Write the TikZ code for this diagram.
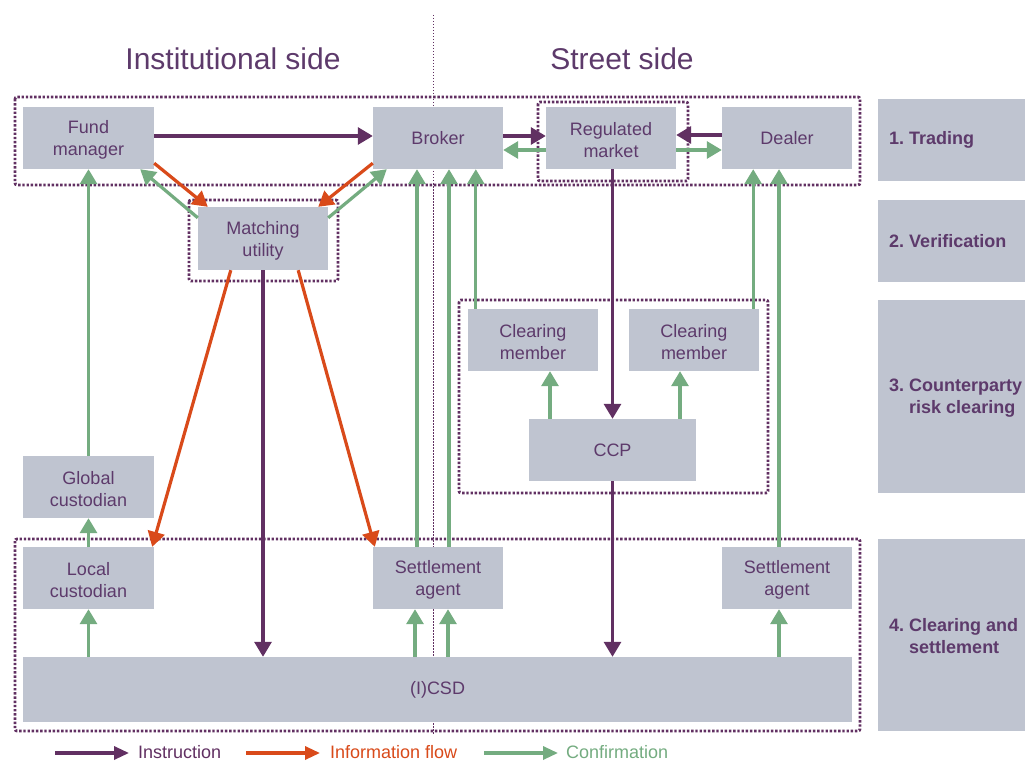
\documentclass[tikz,border=0pt]{standalone}
\usepackage{fontspec}
\setmainfont{Liberation Sans}
\frenchspacing
\usetikzlibrary{arrows.meta,calc}
\definecolor{boxgray}{HTML}{BFC4D0}
\definecolor{txtpurple}{HTML}{5D3A6B}
\definecolor{arrpurple}{HTML}{613062}
\definecolor{infoorange}{HTML}{D94A1A}
\definecolor{confgreen}{HTML}{74AC80}
\begin{document}
\begin{tikzpicture}[x=1pt,y=-1pt,
 box/.style={fill=boxgray, draw=none, text=txtpurple, align=center, font=\fontsize{18}{22}\selectfont, inner sep=0pt, minimum width=130pt, minimum height=62pt},
 lblbox/.style={fill=boxgray, draw=none, minimum width=147pt, inner sep=0pt},
 lbltext/.style={anchor=west, align=left, text=txtpurple, font=\fontsize{18}{22}\selectfont\bfseries, inner sep=0pt},
 title/.style={text=txtpurple, font=\fontsize{30}{36}\selectfont, inner sep=0pt},
 legtext/.style={anchor=west, inner sep=0pt, font=\fontsize{18}{22}\selectfont},
 frame/.style={draw=arrpurple, line width=2.8pt, dash pattern=on 2.4pt off 1.8pt, rounded corners=2pt},
 divider/.style={draw=arrpurple, line width=0.8pt, dash pattern=on 1.5pt off 1.5pt},
 arr/.style={line width=3.2pt, -{Triangle[length=15pt,width=17pt]}},
 legarr/.style={line width=3.2pt, -{Triangle[length=15pt,width=13pt]}},
 instr/.style={arr, draw=arrpurple, fill=arrpurple},
 info/.style={arr, draw=infoorange, fill=infoorange},
 conf/.style={arr, draw=confgreen, fill=confgreen},
]
\path[fill=white] (0,0) rectangle (1025,762);
\useasboundingbox (0,0) rectangle (1025,762);

% divider
\coordinate (dtop) at (433,15);
\coordinate (dbot) at (433,735);
\draw[divider] (dtop) -- (dbot);

% titles
\node[title] (inst) at (233,58.5) {Institutional side};
\node[title] (street) at (622,58.5) {Street side};

% frames
\draw[frame] (15,97) rectangle (860,185);
\draw[frame] (538,102) rectangle (688,181);
\draw[frame] (189,200) rectangle (338,281);
\draw[frame] (459,300) rectangle (768,493);
\draw[frame] (15,539) rectangle (860,731);

% boxes
\node[box, minimum width=131pt] (fm) at (88.5,138) {\rule{0pt}{17pt}Fund\\manager};
\node[box] (broker) at (438,138) {Broker};
\node[box] (market) at (611,138) {\rule{0pt}{17pt}Regulated\\market};
\node[box] (dealer) at (787,138) {Dealer};
\node[box, minimum height=63pt] (mu) at (263,238.5) {\rule{0pt}{17pt}Matching\\utility};
\node[box, minimum width=131pt] (gc) at (88.5,487) {\rule{0pt}{17pt}Global\\custodian};
\node[box, minimum width=131pt] (lc) at (88.5,578) {\rule{0pt}{17pt}Local\\custodian};
\node[box] (sa1) at (438,578) {\rule{0pt}{17pt}Settlement\\agent};
\node[box] (sa2) at (787,578) {\rule{0pt}{17pt}Settlement\\agent};
\node[box, minimum width=829pt, minimum height=65pt] (csd) at (437.5,689.5) {(I)CSD};
\node[box] (cm1) at (533,340) {\rule{0pt}{17pt}Clearing\\member};
\node[box] (cm2) at (694,340) {\rule{0pt}{17pt}Clearing\\member};
\node[box, minimum width=167pt] (ccp) at (612.5,450) {CCP};

% stage labels
\node[lblbox, minimum height=82pt] (l1) at (951.5,140) {};
\node[lblbox, minimum height=82pt] (l2) at (951.5,241) {};
\node[lblbox, minimum height=193pt] (l3) at (951.5,396.5) {};
\node[lblbox, minimum height=192pt] (l4) at (951.5,635) {};
\node[lbltext] (t1) at (889,140) {1. Trading};
\node[lbltext] (t2) at (889,241) {2. Verification};
\node[lbltext] (t3) at (889,398) {3. Counterparty\\\phantom{3.\ }risk clearing};
\node[lbltext] (t4) at (889,636) {4. Clearing and\\\phantom{4.\ }settlement};

% instruction arrows
\draw[instr] ([yshift=2pt]fm.east) -- ([yshift=2pt]broker.west);
\draw[instr] ([yshift=2pt]broker.east) -- ([yshift=2pt]market.west);
\draw[instr] ([yshift=3pt]dealer.west) -- ([yshift=3pt]market.east);
\draw[instr] (mu.south) -- (mu.south |- csd.north);
\draw[instr] (ccp.north |- market.south) -- (ccp.north);
\draw[instr] (ccp.south) -- (ccp.south |- csd.north);

% information flow arrows
\draw[info] ([yshift=6pt]fm.south east) -- ([xshift=10pt]mu.north west);
\draw[info] ([yshift=6pt]broker.south west) -- ([xshift=-10pt]mu.north east);
\draw[info] ([xshift=33pt]mu.south west) -- ([xshift=-2pt]lc.north east);
\draw[info] ([xshift=-30pt]mu.south east) -- ([xshift=2pt]sa1.north west);

% confirmation arrows
\draw[conf] ([yshift=-12pt]market.west) -- ([yshift=-12pt]broker.east);
\draw[conf] ([yshift=-12pt]market.east) -- ([yshift=-12pt]dealer.west);
\draw[conf] ([yshift=-11pt]mu.north west) -- ([xshift=-14pt]fm.south east);
\draw[conf] ([yshift=-11pt]mu.north east) -- ([xshift=14pt]broker.south west);
\draw[conf] (gc.north) -- (fm.south);
\draw[conf] (lc.north) -- (gc.south);
\draw[conf] (lc.south |- csd.north) -- (lc.south);
\draw[conf] ([xshift=-21pt]sa1.north) -- ([xshift=-21pt]broker.south);
\draw[conf] ([xshift=11pt]sa1.north) -- ([xshift=11pt]broker.south);
\coordinate (c1) at ([xshift=8pt]cm1.north west);
\draw[conf] (c1) -- (c1 |- broker.south);
\coordinate (c2) at ([xshift=-6pt]cm2.north east);
\draw[conf] (c2) -- (c2 |- dealer.south);
\draw[conf] ([xshift=-8pt]sa2.north) -- ([xshift=-8pt]dealer.south);
\coordinate (s1) at ([xshift=-23pt]sa1.south);
\coordinate (s2) at ([xshift=10pt]sa1.south);
\coordinate (s3) at ([xshift=-8pt]sa2.south);
\draw[conf] (s1 |- csd.north) -- (s1);
\draw[conf] (s2 |- csd.north) -- (s2);
\draw[conf] (s3 |- csd.north) -- (s3);
\coordinate (k1) at ([xshift=17pt]cm1.south);
\coordinate (k2) at ([xshift=-14pt]cm2.south);
\draw[conf] (k1 |- ccp.north) -- (k1);
\draw[conf] (k2 |- ccp.north) -- (k2);

% legend
\node[legtext, text=arrpurple] (lgi) at (138,752) {Instruction};
\node[legtext, text=infoorange] (lgf) at (330,752) {Information flow};
\node[legtext, text=confgreen] (lgc) at (566,752) {Confirmation};
\coordinate (lgia) at (55,753);
\coordinate (lgfa) at (246,753);
\coordinate (lgca) at (484,753);
\draw[legarr, draw=arrpurple, fill=arrpurple] (lgia) -- (lgia -| 129,0);
\draw[legarr, draw=infoorange, fill=infoorange] (lgfa) -- (lgfa -| 320,0);
\draw[legarr, draw=confgreen, fill=confgreen] (lgca) -- (lgca -| 558,0);
\end{tikzpicture}
\end{document}
